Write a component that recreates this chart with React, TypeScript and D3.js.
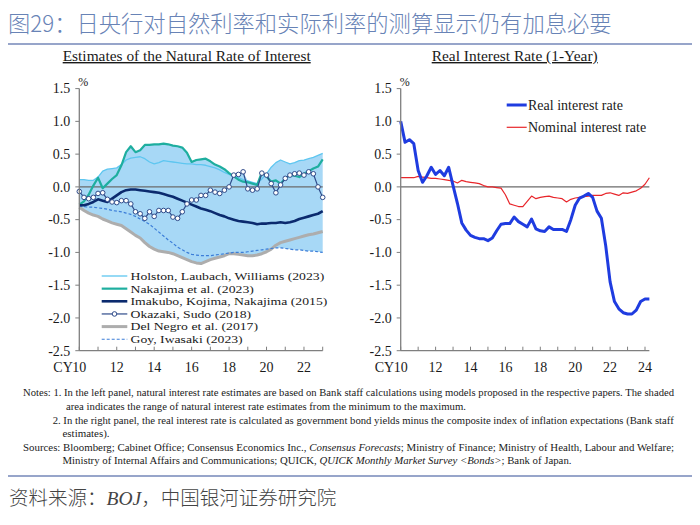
import React from "react";
import * as d3 from "d3";

// ---------- DATA ----------
const NAT_START = 2010;
const natDates = d3.range(53).map((i) => NAT_START + i / 4);

const hlw = [0.11, 0.11, 0.10, 0.10, 0.15, 0.24, 0.27, 0.28, 0.29, 0.34, 0.41, 0.44, 0.45, 0.46, 0.43, 0.38, 0.35, 0.37, 0.40, 0.39, 0.38, 0.37, 0.36, 0.35, 0.35, 0.34, 0.34, 0.33, 0.31, 0.29, 0.26, 0.22, 0.19, 0.16, 0.14, 0.11, 0.09, 0.07, 0.05, 0.12, 0.20, 0.30, 0.37, 0.41, 0.38, 0.35, 0.37, 0.40, 0.41, 0.43, 0.45, 0.48, 0.51];
const nakajima = [-0.27, -0.22, -0.12, 0.02, 0.14, -0.02, 0.05, 0.12, 0.18, 0.33, 0.53, 0.62, 0.53, 0.56, 0.64, 0.64, 0.65, 0.65, 0.66, 0.65, 0.63, 0.62, 0.60, 0.52, 0.38, 0.41, 0.42, 0.43, 0.39, 0.34, 0.31, 0.27, 0.21, 0.16, 0.11, 0.08, 0.07, 0.05, 0.03, 0.22, 0.16, 0.08, 0.10, 0.05, 0.13, 0.18, 0.17, 0.15, 0.20, 0.24, 0.28, 0.31, 0.42];
const imakubo = [-0.28, -0.28, -0.26, -0.23, -0.19, -0.21, -0.23, -0.18, -0.13, -0.08, -0.05, -0.04, -0.04, -0.05, -0.06, -0.07, -0.08, -0.09, -0.11, -0.13, -0.15, -0.18, -0.21, -0.24, -0.27, -0.30, -0.33, -0.35, -0.37, -0.40, -0.43, -0.45, -0.48, -0.50, -0.52, -0.53, -0.54, -0.55, -0.57, -0.56, -0.56, -0.55, -0.55, -0.54, -0.55, -0.54, -0.52, -0.49, -0.47, -0.45, -0.43, -0.41, -0.37];
const okazaki = [-0.07, -0.16, -0.18, -0.16, -0.10, -0.09, -0.19, -0.23, -0.24, -0.21, -0.21, -0.26, -0.38, -0.41, -0.48, -0.38, -0.45, -0.36, -0.36, -0.36, -0.46, -0.48, -0.38, -0.26, -0.20, -0.20, -0.13, -0.13, -0.05, -0.08, -0.10, -0.05, 0.00, 0.18, 0.19, 0.23, -0.03, -0.05, -0.03, 0.21, 0.18, 0.05, -0.09, 0.03, 0.13, 0.18, 0.20, 0.21, 0.18, 0.23, 0.20, 0.00, -0.16];
const delNegro = [-0.31, -0.36, -0.40, -0.43, -0.45, -0.49, -0.52, -0.55, -0.57, -0.59, -0.64, -0.69, -0.74, -0.78, -0.85, -0.91, -0.95, -0.98, -0.99, -1.00, -1.02, -1.05, -1.08, -1.11, -1.14, -1.16, -1.17, -1.14, -1.11, -1.09, -1.07, -1.05, -1.02, -1.02, -1.03, -1.04, -1.05, -1.05, -1.04, -1.02, -0.99, -0.95, -0.89, -0.85, -0.83, -0.81, -0.79, -0.77, -0.75, -0.73, -0.72, -0.70, -0.68];
const goy = [-0.29, -0.30, -0.31, -0.31, -0.32, -0.33, -0.34, -0.36, -0.37, -0.38, -0.40, -0.42, -0.45, -0.49, -0.53, -0.57, -0.63, -0.69, -0.75, -0.81, -0.86, -0.92, -0.96, -1.00, -1.03, -1.04, -1.05, -1.05, -1.05, -1.04, -1.03, -1.02, -1.01, -1.00, -1.00, -1.00, -0.99, -0.98, -0.97, -0.96, -0.95, -0.94, -0.93, -0.93, -0.94, -0.95, -0.96, -0.96, -0.97, -0.98, -0.98, -0.99, -1.00];

const realDates = d3.range(58).map((i) => 2010 + i / 4);
const realRate = [1.00, 0.68, 0.72, 0.66, 0.25, 0.07, 0.17, 0.30, 0.19, 0.25, 0.17, 0.30, 0.02, -0.25, -0.55, -0.66, -0.74, -0.77, -0.79, -0.79, -0.82, -0.78, -0.67, -0.57, -0.56, -0.56, -0.46, -0.53, -0.57, -0.61, -0.49, -0.64, -0.67, -0.68, -0.61, -0.65, -0.65, -0.65, -0.68, -0.50, -0.28, -0.17, -0.14, -0.10, -0.16, -0.37, -0.48, -0.90, -1.45, -1.75, -1.86, -1.92, -1.94, -1.94, -1.88, -1.75, -1.71, -1.71];
const nominalRate = [0.14, 0.14, 0.14, 0.14, 0.16, 0.15, 0.14, 0.13, 0.13, 0.12, 0.11, 0.10, 0.09, 0.06, 0.10, 0.08, 0.07, 0.06, 0.05, 0.02, 0.00, 0.00, -0.01, -0.02, -0.12, -0.26, -0.28, -0.30, -0.30, -0.22, -0.14, -0.18, -0.16, -0.15, -0.14, -0.16, -0.17, -0.18, -0.23, -0.19, -0.17, -0.16, -0.15, -0.14, -0.13, -0.13, -0.13, -0.10, -0.09, -0.11, -0.13, -0.09, -0.10, -0.08, -0.06, -0.02, 0.04, 0.14];

const yTicks = [1.5, 1.0, 0.5, 0.0, -0.5, -1.0, -1.5, -2.0, -2.5];
const leftYearTicks = d3.range(2010, 2024);
const rightYearTicks = d3.range(2010, 2025);

const leftSeries = [
  { label: "Holston, Laubach, Williams (2023)", values: hlw, color: "#5ec6f0", width: 1.3, dash: "", marker: false },
  { label: "Nakajima et al. (2023)", values: nakajima, color: "#1eae9f", width: 2.2, dash: "", marker: false },
  { label: "Imakubo, Kojima, Nakajima (2015)", values: imakubo, color: "#0b2a6e", width: 2.6, dash: "", marker: false },
  { label: "Okazaki, Sudo (2018)", values: okazaki, color: "#2f4b8a", width: 1.2, dash: "", marker: true },
  { label: "Del Negro et al. (2017)", values: delNegro, color: "#adadad", width: 3, dash: "", marker: false },
  { label: "Goy, Iwasaki (2023)", values: goy, color: "#3b7dd8", width: 1.2, dash: "3,2", marker: false },
];
const drawOrder = [4, 5, 0, 1, 2, 3];

const rightSeries = [
  { label: "Real interest rate", values: realRate, color: "#1f3ce0", width: 3 },
  { label: "Nominal interest rate", values: nominalRate, color: "#e8262b", width: 1.2 },
];

const TITLE = "图29：日央行对自然利率和实际利率的测算显示仍有加息必要";

// ---------- LAYOUT ----------
const SERIF = "'Liberation Serif', 'Times New Roman', serif";
const CJK = "'Noto Sans CJK SC', 'Noto Sans', sans-serif";
const AXIS = "#7f7f7f";

const yScale = d3.scaleLinear().domain([-2.5, 1.5]).range([350.7, 88.6]);
const xLeft = d3.scaleLinear().domain([2010, 2023]).range([79.3, 322.7]);
const xRight = d3.scaleLinear().domain([2010, 2024]).range([400.7, 645]);

function YAxis({ x }: { x: number }) {
  return (
    <g>
      <line x1={x} x2={x} y1={yScale(1.5)} y2={yScale(-2.5)} stroke={AXIS} strokeWidth={1.3} />
      {yTicks.map((t) => (
        <g key={t}>
          <line x1={x - 4} x2={x} y1={yScale(t)} y2={yScale(t)} stroke={AXIS} strokeWidth={1} />
          <text x={x - 9} y={yScale(t) + 4.8} textAnchor="end" fontSize={14} fontFamily={SERIF} fill="#1a1a1a">
            {t.toFixed(1)}
          </text>
        </g>
      ))}
      <text x={x - 1} y={86} fontSize={12} fontFamily={SERIF} fill="#1a1a1a">%</text>
    </g>
  );
}

function XAxis({ scale, ticks, end }: { scale: d3.ScaleLinear<number, number>; ticks: number[]; end: number }) {
  const y0 = yScale(-2.5);
  return (
    <g>
      <line x1={scale(2010)} x2={scale(end)} y1={y0} y2={y0} stroke={AXIS} strokeWidth={1.3} />
      {ticks.map((t) => (
        <line key={t} x1={scale(t)} x2={scale(t)} y1={y0} y2={y0 - 4} stroke={AXIS} strokeWidth={1} />
      ))}
      {ticks.filter((t) => t % 2 === 0).map((t) => (
        <text key={"l" + t} x={scale(t)} y={y0 + 21} textAnchor="middle" fontSize={14} fontFamily={SERIF} fill="#1a1a1a">
          {String(t % 100).padStart(2, "0")}
        </text>
      ))}
      <text x={scale(2010) - 6.5} y={y0 + 21} textAnchor="end" fontSize={14} fontFamily={SERIF} fill="#1a1a1a">CY</text>
    </g>
  );
}

export default function App() {
  const band = d3
    .area<number>()
    .x((_, i) => xLeft(natDates[i]))
    .y0((_, i) => yScale(d3.min(leftSeries, (s) => s.values[i]) as number))
    .y1((_, i) => yScale(d3.max(leftSeries, (s) => s.values[i]) as number));
  const lineL = (vals: number[]) =>
    d3.line<number>().x((_, i) => xLeft(natDates[i])).y((d) => yScale(d))(vals) || "";
  const lineR = (vals: number[]) =>
    d3.line<number>().x((_, i) => xRight(realDates[i])).y((d) => yScale(d))(vals) || "";

  return (
    <svg width={700} height={525} style={{ position: "absolute", left: 0, top: 0, background: "#fff" }}>
      <text x={8} y={32} fontSize={22.3} fontFamily={CJK} fontWeight={300} fill="#6883b6">{TITLE}</text>
      <line x1={8} x2={692} y1={44} y2={44} stroke="#7587b8" strokeWidth={1.5} />

      {/* Left panel */}
      <text x={62.7} y={61} textLength={248} lengthAdjust="spacingAndGlyphs" fontSize={14} fontFamily={SERIF} fill="#1a1a1a" style={{ textDecoration: "underline" }}>
        Estimates of the Natural Rate of Interest
      </text>
      <path d={band(natDates.map((_, i) => i)) || ""} fill="#a7d8f6" />
      <line x1={xLeft(2010)} x2={xLeft(2023)} y1={yScale(0)} y2={yScale(0)} stroke="#6b6b6b" strokeWidth={1.1} />
      {drawOrder.map((k) => {
        const s = leftSeries[k];
        return (
          <path key={s.label} d={lineL(s.values)} fill="none" stroke={s.color} strokeWidth={s.width}
            strokeDasharray={s.dash || undefined} strokeLinejoin="round" />
        );
      })}
      {okazaki.map((v, i) => (
        <circle key={i} cx={xLeft(natDates[i])} cy={yScale(v)} r={2.3} fill="#fff" stroke="#2f4b8a" strokeWidth={1} />
      ))}
      <YAxis x={xLeft(2010)} />
      <XAxis scale={xLeft} ticks={leftYearTicks} end={2023} />
      {leftSeries.map((s, i) => {
        const y = 276 + i * 12.65;
        return (
          <g key={"lg" + i}>
            <line x1={101.7} x2={127.3} y1={y} y2={y} stroke={s.color} strokeWidth={s.width} strokeDasharray={s.dash || undefined} />
            {s.marker && <circle cx={114.5} cy={y} r={2.3} fill="#fff" stroke={s.color} strokeWidth={1} />}
            <text x={0} y={y + 3.9} fontSize={10.9} fontFamily={SERIF} fill="#1a1a1a" transform="translate(130.5,0) scale(1.26,1)">{s.label}</text>
          </g>
        );
      })}

      {/* Right panel */}
      <text x={431.7} y={61} textLength={166} lengthAdjust="spacingAndGlyphs" fontSize={14} fontFamily={SERIF} fill="#1a1a1a" style={{ textDecoration: "underline" }}>
        Real Interest Rate (1-Year)
      </text>
      <line x1={xRight(2010)} x2={xRight(2024.25)} y1={yScale(0)} y2={yScale(0)} stroke="#6b6b6b" strokeWidth={1.1} />
      {[1, 0].map((k) => {
        const s = rightSeries[k];
        return <path key={s.label} d={lineR(s.values)} fill="none" stroke={s.color} strokeWidth={s.width} strokeLinejoin="round" />;
      })}
      <YAxis x={xRight(2010)} />
      <XAxis scale={xRight} ticks={rightYearTicks} end={2024.25} />
      {rightSeries.map((s, i) => {
        const y = 105 + i * 22.3;
        return (
          <g key={"rg" + i}>
            <line x1={506.7} x2={526.7} y1={y} y2={y} stroke={s.color} strokeWidth={s.width} />
            <text x={528} y={y + 4.8} fontSize={14} fontFamily={SERIF} fill="#1a1a1a">{s.label}</text>
          </g>
        );
      })}

      {/* Notes */}
      <g fontFamily={SERIF} fontSize={10.5} fill="#1a1a1a">
        <text x={23} y={396} textLength={651} lengthAdjust="spacingAndGlyphs">
          Notes: 1. In the left panel, natural interest rate estimates are based on Bank staff calculations using models proposed in the respective papers. The shaded
        </text>
        <text x={66} y={409.5} textLength={400} lengthAdjust="spacingAndGlyphs">
          area indicates the range of natural interest rate estimates from the minimum to the maximum.
        </text>
        <text x={52.7} y={424} textLength={621} lengthAdjust="spacingAndGlyphs">
          2. In the right panel, the real interest rate is calculated as government bond yields minus the composite index of inflation expectations (Bank staff
        </text>
        <text x={62.5} y={437} textLength={47} lengthAdjust="spacingAndGlyphs">estimates).</text>
        <text x={23} y={450.5} textLength={651} lengthAdjust="spacingAndGlyphs">
          Sources: Bloomberg; Cabinet Office; Consensus Economics Inc., <tspan fontStyle="italic">Consensus Forecasts</tspan>; Ministry of Finance; Ministry of Health, Labour and Welfare;
        </text>
        <text x={62.5} y={464} textLength={509} lengthAdjust="spacingAndGlyphs">
          Ministry of Internal Affairs and Communications; QUICK, <tspan fontStyle="italic">QUICK Monthly Market Survey &lt;Bonds&gt;</tspan>; Bank of Japan.
        </text>
      </g>
      <line x1={8} x2={692} y1={476} y2={476} stroke="#7587b8" strokeWidth={1.5} />
      <text x={9} y={505} fontSize={19.5} fontFamily={CJK} fontWeight={300} fill="#444">
        资料来源：<tspan fontStyle="italic" fontFamily={SERIF}>BOJ</tspan>，中国银河证券研究院
      </text>
    </svg>
  );
}
